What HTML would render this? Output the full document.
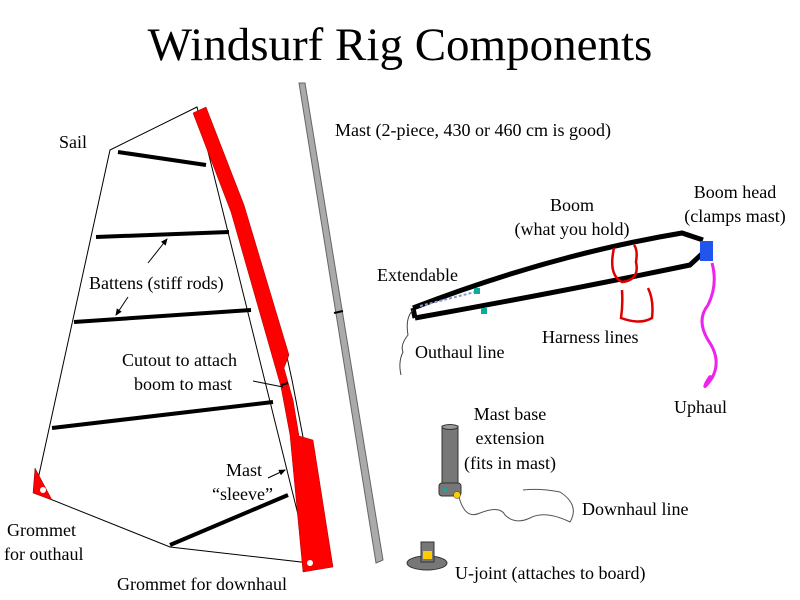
<!DOCTYPE html>
<html><head><meta charset="utf-8"><style>
html,body{margin:0;padding:0;background:#fff;}
svg{display:block;}
text{font-family:"Liberation Serif","Times New Roman",serif;font-size:18px;fill:#000;}
</style></head><body>
<svg width="800" height="600" viewBox="0 0 800 600" font-family="Liberation Serif, serif">
<defs><marker id="ah" markerWidth="8" markerHeight="8" refX="6" refY="3" orient="auto"><path d="M0,0 L7,3 L0,6 z" fill="#000"/></marker></defs>
<text x="400" y="60" text-anchor="middle" font-family="Liberation Serif, serif" style="font-size:47px">Windsurf Rig Components</text>
<polygon points="197,107 110,150 35,493 170,547 310,563" fill="none" stroke="#000" stroke-width="1"/>
<g stroke="#000" stroke-width="4" stroke-linecap="butt">
<line x1="118" y1="152" x2="206" y2="165"/>
<line x1="96" y1="237" x2="229" y2="232"/>
<line x1="74" y1="322" x2="251" y2="310"/>
<line x1="52" y1="428" x2="273" y2="402"/>
<line x1="170" y1="545" x2="288" y2="495"/>
</g>
<polyline points="287,357 292,380 303,437" fill="none" stroke="#000" stroke-width="1"/>
<polygon points="193,113 206,107 244,205 289,355 284,368 293,400 299,436 313,440 333,567 303,572 290,435 281,387 231,212" fill="#f00" stroke="#a00" stroke-width="0.5"/>
<line x1="281" y1="385" x2="288" y2="383" stroke="#000" stroke-width="2"/>
<circle cx="310" cy="563" r="3" fill="#fff"/>
<polygon points="35,468 52,500 33,493" fill="#f00" stroke="#800" stroke-width="0.5"/>
<circle cx="43" cy="490" r="3" fill="#fff"/>
<polygon points="299,83 305,83 383,560 376,563" fill="#aaa" stroke="#666" stroke-width="1"/>
<line x1="334" y1="313" x2="343" y2="311" stroke="#000" stroke-width="2"/>
<path d="M413,308 Q550,255 682,233 L703,240" fill="none" stroke="#000" stroke-width="5"/>
<path d="M415,318 Q560,292 690,265 L704,252" fill="none" stroke="#000" stroke-width="5"/>
<path d="M413,308 L415,318" stroke="#000" stroke-width="5"/>
<line x1="420" y1="306" x2="475" y2="292" stroke="#8899cc" stroke-width="2" stroke-dasharray="3,2"/>
<rect x="474" y="288" width="6" height="6" fill="#1a9"/>
<rect x="481" y="308" width="6" height="6" fill="#1a9"/>
<rect x="700" y="241" width="13" height="20" fill="#2255ee"/>
<path d="M614,248 Q608,275 622,282 Q640,280 636,262 Q638,250 634,245" fill="none" stroke="#d00" stroke-width="2.5"/>
<path d="M622,290 Q623,305 621,318 Q640,325 652,318 Q654,300 648,288" fill="none" stroke="#d00" stroke-width="2.5"/>
<path d="M712,263 Q718,285 708,305 Q696,320 708,340 Q722,360 712,378 Q702,392 706,383 Q712,372 710,380" fill="none" stroke="#e2e" stroke-width="3"/>
<path d="M413,310 Q405,318 408,335 Q400,345 403,352 Q398,362 401,375" fill="none" stroke="#444" stroke-width="1"/>
<rect x="442" y="426" width="16" height="60" fill="#777" stroke="#333"/>
<ellipse cx="450" cy="427" rx="8" ry="2.5" fill="#999" stroke="#333"/>
<rect x="439" y="483" width="22" height="13" rx="3" fill="#777" stroke="#333"/>
<circle cx="445" cy="490" r="2" fill="#1a9"/>
<circle cx="457" cy="495" r="3.5" fill="#fc0" stroke="#333" stroke-width="0.5"/>
<path d="M459,497 Q465,520 480,513 Q500,505 505,515 Q515,525 530,518 Q545,510 570,522 Q580,505 560,492 Q540,488 523,490" fill="none" stroke="#555" stroke-width="1"/>
<ellipse cx="427" cy="563" rx="20" ry="7" fill="#777" stroke="#333"/>
<rect x="421" y="542" width="13" height="20" fill="#777" stroke="#333"/>
<rect x="423" y="551" width="9" height="8" fill="#fc0"/>
<line x1="148" y1="263" x2="167" y2="239" stroke="#000" stroke-width="1" marker-end="url(#ah)"/>
<line x1="128" y1="297" x2="116" y2="315" stroke="#000" stroke-width="1" marker-end="url(#ah)"/>
<line x1="253" y1="381" x2="283" y2="387" stroke="#000" stroke-width="1"/>
<line x1="268" y1="478" x2="285" y2="470" stroke="#000" stroke-width="1" marker-end="url(#ah)"/>
<g font-family="Liberation Serif, serif">
<text x="59" y="148">Sail</text>
<text x="335" y="136">Mast (2-piece, 430 or 460 cm is good)</text>
<text x="572" y="211" text-anchor="middle">Boom</text>
<text x="572" y="235" text-anchor="middle">(what you hold)</text>
<text x="735" y="198" text-anchor="middle">Boom head</text>
<text x="735" y="222" text-anchor="middle">(clamps mast)</text>
<text x="377" y="281">Extendable</text>
<text x="89" y="289">Battens (stiff rods)</text>
<text x="415" y="358">Outhaul line</text>
<text x="542" y="343">Harness lines</text>
<text x="122" y="366">Cutout to attach</text>
<text x="134" y="390">boom to mast</text>
<text x="674" y="413">Uphaul</text>
<text x="510" y="420" text-anchor="middle">Mast base</text>
<text x="510" y="444" text-anchor="middle">extension</text>
<text x="510" y="469" text-anchor="middle">(fits in mast)</text>
<text x="226" y="476">Mast</text>
<text x="212" y="500">“sleeve”</text>
<text x="7" y="536">Grommet</text>
<text x="4" y="560">for outhaul</text>
<text x="582" y="515">Downhaul line</text>
<text x="455" y="579">U-joint (attaches to board)</text>
<text x="117" y="590">Grommet for downhaul</text>
</g>
</svg>
</body></html>
